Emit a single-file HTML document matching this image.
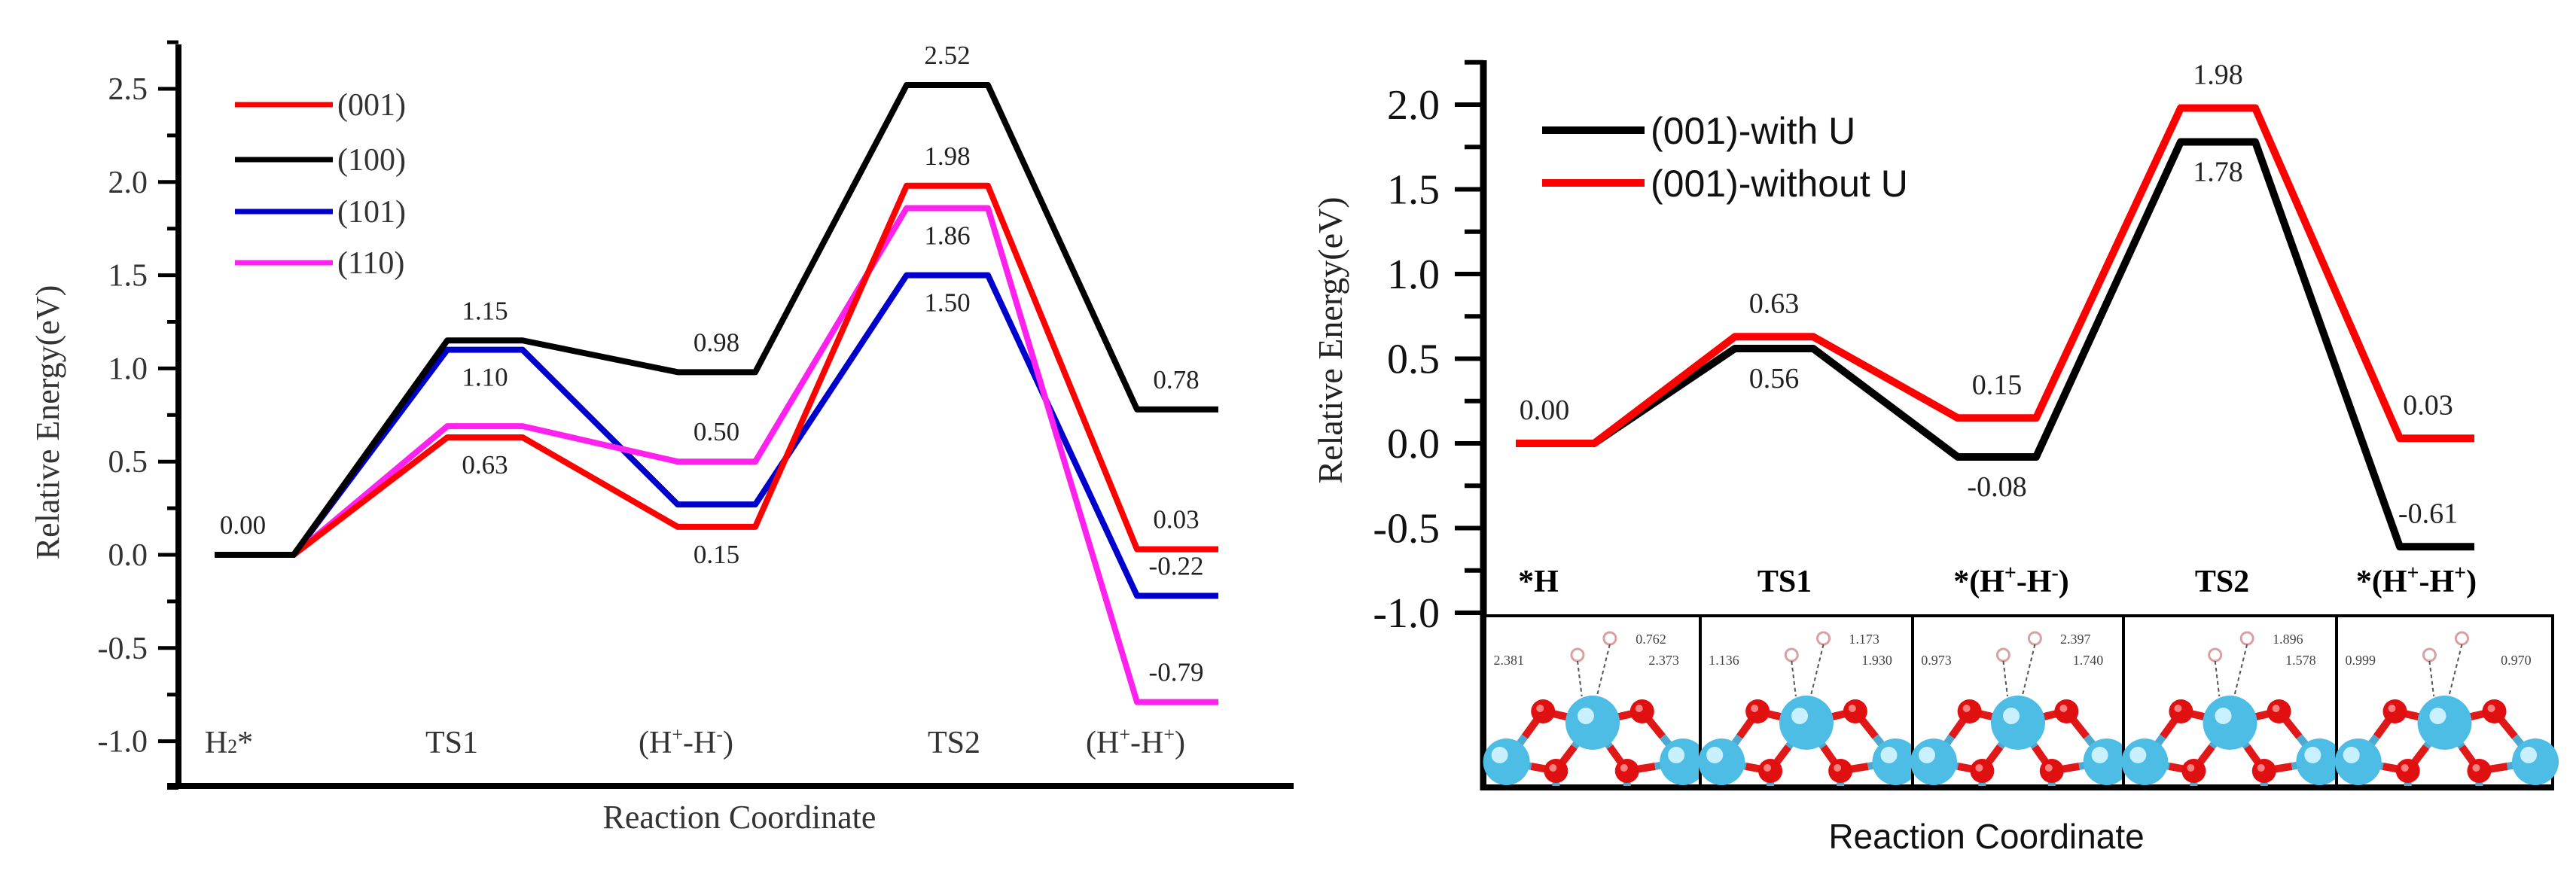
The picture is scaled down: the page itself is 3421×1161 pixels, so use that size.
<!DOCTYPE html>
<html><head><meta charset="utf-8"><style>
html,body{margin:0;padding:0;background:#fff;}
svg{display:block;}
</style></head><body>
<svg id="fig" width="3421" height="1161" viewBox="0 0 3421 1161" xmlns="http://www.w3.org/2000/svg">
<rect x="0" y="0" width="3421" height="1161" fill="#fff"/>
<g id="left"></g>
<g id="right"></g>
</svg>
<script>
// ---------- Left chart data ----------
const leftStates = ["H2*", "TS1", "(H+-H-)", "TS2", "(H+-H+)"];
const leftSeriesNames = ["(001)", "(100)", "(101)", "(110)"];
const leftColors = ["#ff0000", "#000000", "#0000cc", "#ff22ee"];
const left001 = [0.00, 0.63, 0.15, 1.98, 0.03];
const left100 = [0.00, 1.15, 0.98, 2.52, 0.78];
const left101 = [0.00, 1.10, 0.27, 1.50, -0.22];
const left110 = [0.00, 0.69, 0.50, 1.86, -0.79];
const leftTicks = [2.5, 2.0, 1.5, 1.0, 0.5, 0.0, -0.5, -1.0];
const leftTickLabels = ["2.5", "2.0", "1.5", "1.0", "0.5", "0.0", "-0.5", "-1.0"];
const leftAnnot = [["0.00",0,0.00,-1],["1.15",1,1.15,-1],["1.10",1,1.10,1],["0.63",1,0.63,1],["0.98",2,0.98,-1],["0.50",2,0.50,-1],["0.15",2,0.15,1],["2.52",3,2.52,-1],["1.98",3,1.98,-1],["1.86",3,1.86,1],["1.50",3,1.50,1],["0.78",4,0.78,-1],["0.03",4,0.03,-1],["-0.22",4,-0.22,-1],["-0.79",4,-0.79,-1]];

// ---------- Right chart data ----------
const rightStates = ["*H", "TS1", "*(H+-H-)", "TS2", "*(H+-H+)"];
const rightSeriesNames = ["(001)-with U", "(001)-without U"];
const rightColors = ["#000000", "#ff0000"];
const rightWithU = [0.00, 0.56, -0.08, 1.78, -0.61];
const rightWithoutU = [0.00, 0.63, 0.15, 1.98, 0.03];
const rightTicks = [2.0, 1.5, 1.0, 0.5, 0.0, -0.5, -1.0];
const rightTickLabels = ["2.0", "1.5", "1.0", "0.5", "0.0", "-0.5", "-1.0"];
const rightAnnot = [["0.00",0,0.00,-1],["0.63",1,0.63,-1],["0.56",1,0.56,1],["0.15",2,0.15,-1],["-0.08",2,-0.08,1],["1.98",3,1.98,-1],["1.78",3,1.78,1],["0.03",4,0.03,-1],["-0.61",4,-0.61,-1]];

const NS = "http://www.w3.org/2000/svg";
function mk(parent, tag, attrs, text){
  const e = document.createElementNS(NS, tag);
  for (const k in attrs) e.setAttribute(k, attrs[k]);
  if (text !== undefined) e.textContent = text;
  parent.appendChild(e); return e;
}

// ===== LEFT =====
(function(){
  const g = document.getElementById('left');
  const y0 = 737, perUnit = 247.6;
  const yL = v => y0 - perUnit * v;
  const levelX = [[285,390],[594,694],[900,1003],[1204,1312],[1510,1618]];
  const serif = '"Liberation Serif", serif';
  let ax = mk(g,'line',{x1:237,y1:59,x2:237,y2:1048,stroke:'#000','stroke-width':8});
   
  ax = mk(g,'line',{x1:222,y1:1044,x2:1718,y2:1044,stroke:'#000','stroke-width':8});
   
  for (let v=-1.25; v<=2.76; v+=0.25){
    const major = Math.abs(v*2-Math.round(v*2))<1e-6;
    const t = mk(g,'line',{x1: major?210:222, y1:yL(v), x2:237, y2:yL(v), stroke:'#000','stroke-width':5});
     
  }
  leftTicks.forEach((v,i)=>{
    const t = mk(g,'text',{x:196,y:yL(v)+14,'text-anchor':'end','font-family':serif,'font-size':42,fill:'#333'}, leftTickLabels[i]);
     
  });
  const yt = mk(g,'text',{x:0,y:0,transform:'translate(78,561) rotate(-90)','text-anchor':'middle','font-family':serif,'font-size':44,fill:'#333'},'Relative Energy(eV)');
   
  const xt = mk(g,'text',{x:982,y:1100,'text-anchor':'middle','font-family':serif,'font-size':44,fill:'#333'},'Reaction Coordinate');
   
  const catX = [304,600,911,1267,1508];
  leftStates.forEach((s,i)=>{
    const t = mk(g,'text',{x:catX[i],y:1000,'text-anchor':'middle','font-family':serif,'font-size':42,fill:'#333'});
     
    if (s==='H2*'){ t.innerHTML='H<tspan font-size="26">2</tspan>*'; }
    else if (s.indexOf('H+')>=0){
      const last = s.endsWith('H-)')?'-':'+';
      t.innerHTML='(H<tspan dy="-16" font-size="26">+</tspan><tspan dy="16">-H</tspan><tspan dy="-16" font-size="26">'+last+'</tspan><tspan dy="16">)</tspan>';
    } else t.textContent = s;
  });
  const series = [left001, left100, left101, left110];
  const order = [2,3,0,1];
  order.forEach(si=>{
    const vals = series[si];
    const pts = [];
    vals.forEach((v,i)=>{ pts.push(levelX[i][0]+','+yL(v)); pts.push(levelX[i][1]+','+yL(v)); });
    const p = mk(g,'polyline',{points:pts.join(' '),fill:'none',stroke:leftColors[si],'stroke-width':8,'stroke-linejoin':'round'});
    
    
  });
  leftAnnot.forEach(a=>{
    const cx = (levelX[a[1]][0]+levelX[a[1]][1])/2 + (a[1]===4? -2: (a[1]===0?-15:0));
    const y = a[3]<0 ? yL(a[2])-28 : yL(a[2])+48;
    const t = mk(g,'text',{x:cx,y:y,'text-anchor':'middle','font-family':serif,'font-size':35,fill:'#222'},a[0]);
     
  });
  const legY = [139,212,281,349];
  leftSeriesNames.forEach((n,i)=>{
    const l = mk(g,'line',{x1:312,y1:legY[i],x2:442,y2:legY[i],stroke:leftColors[i],'stroke-width':7});
     
    const t = mk(g,'text',{x:448,y:legY[i]+14,'font-family':serif,'font-size':42,fill:'#333'},n);
     
  });
})();

// ===== RIGHT =====
(function(){
  const g = document.getElementById('right');
  const y0 = 589, perUnit = 225;
  const yR = v => y0 - perUnit * v;
  const levelX = [[2013,2117],[2304,2408],[2600,2704],[2896,2995],[3187,3286]];
  const serif = '"Liberation Serif", serif';
  const sans = '"Liberation Sans", sans-serif';
  let ax = mk(g,'line',{x1:1970,y1:80,x2:1970,y2:1050,stroke:'#000','stroke-width':9});
   
  ax = mk(g,'line',{x1:1966,y1:1046,x2:3392,y2:1046,stroke:'#000','stroke-width':8});
   
  for (let v=-1.0; v<=2.26; v+=0.25){
    const major = Math.abs(v*2-Math.round(v*2))<1e-6;
    const t = mk(g,'line',{x1: major?1932:1945, y1:yR(v), x2:1970, y2:yR(v), stroke:'#000','stroke-width':6});
     
  }
  rightTicks.forEach((v,i)=>{
    const t = mk(g,'text',{x:1912,y:yR(v)+19,'text-anchor':'end','font-family':serif,'font-size':56,fill:'#111'}, rightTickLabels[i]);
     
  });
  const yt = mk(g,'text',{x:0,y:0,transform:'translate(1782,452) rotate(-90)','text-anchor':'middle','font-family':serif,'font-size':46,fill:'#222'},'Relative Energy(eV)');
   
  const xt = mk(g,'text',{x:2638,y:1127,'text-anchor':'middle','font-family':sans,'font-size':46,fill:'#111'},'Reaction Coordinate');
   
  const catX = [2043,2370,2671,2951,3209];
  rightStates.forEach((s,i)=>{
    const t = mk(g,'text',{x:catX[i],y:786,'text-anchor':'middle','font-family':serif,'font-size':42,'font-weight':'bold',fill:'#000'});
     
    if (s.indexOf('H+')>=0){
      const last = s.endsWith('H-)')?'-':'+';
      t.innerHTML='*(H<tspan dy="-16" font-size="28">+</tspan><tspan dy="16">-H</tspan><tspan dy="-16" font-size="28">'+last+'</tspan><tspan dy="16">)</tspan>';
    } else t.textContent = s;
  });
  const series = [rightWithU, rightWithoutU];
  series.forEach((vals,si)=>{
    const pts = [];
    vals.forEach((v,i)=>{ pts.push(levelX[i][0]+','+yR(v)); pts.push(levelX[i][1]+','+yR(v)); });
    const p = mk(g,'polyline',{points:pts.join(' '),fill:'none',stroke:rightColors[si],'stroke-width':10,'stroke-linejoin':'round'});
    
    
  });
  rightAnnot.forEach(a=>{
    const cx = (levelX[a[1]][0]+levelX[a[1]][1])/2 + (a[1]===0?-14:(a[1]===4?-12:0));
    const y = a[3]<0 ? yR(a[2])-32 : yR(a[2])+52;
    const t = mk(g,'text',{x:cx,y:y,'text-anchor':'middle','font-family':serif,'font-size':38,fill:'#222'},a[0]);
     
  });
  const legY = [173,243];
  rightSeriesNames.forEach((n,i)=>{
    const l = mk(g,'line',{x1:2048,y1:legY[i],x2:2184,y2:legY[i],stroke:rightColors[i],'stroke-width':10});
     
    const t = mk(g,'text',{x:2192,y:legY[i]+18,'font-family':sans,'font-size':50,fill:'#111'},n);
     
  });
  // structure image panels
  const boxX = [1972,2258,2540,2820,3103,3390];
  const top = 818, bot = 1044;
  const panelLabels = [["0.762","2.381","2.373"],["1.173","1.136","1.930"],["2.397","0.973","1.740"],["1.896","","1.578"],["","0.999","0.970"]];
  for (let b=0;b<5;b++){
    const x0 = boxX[b], w = boxX[b+1]-boxX[b];
    const pg = mk(g,'g',{});
     
    mk(pg,'rect',{x:x0,y:top,width:w,height:bot-top,fill:'#fff',stroke:'#000','stroke-width':4});
    const C = [x0+0.5*w, 960], BL=[x0+0.1*w,1012], BR=[x0+0.92*w,1012];
    const R = [[x0+0.27*w,945],[x0+0.73*w,945],[x0+0.33*w,1024],[x0+0.66*w,1024]];
    const bonds = [[R[0],C],[R[1],C],[R[2],C],[R[3],C],[R[0],BL],[R[2],BL],[R[1],BR],[R[3],BR],[R[2],[R[2][0],1044]],[R[3],[R[3][0],1044]]];
    bonds.forEach(bd=>{
      const mx=(bd[0][0]+bd[1][0])/2,my=(bd[0][1]+bd[1][1])/2;
      mk(pg,'line',{x1:bd[0][0],y1:bd[0][1],x2:mx,y2:my,stroke:'#e01818','stroke-width':10});
      mk(pg,'line',{x1:mx,y1:my,x2:bd[1][0],y2:bd[1][1],stroke:'#4fa8d0','stroke-width':10});
    });
    [BL,BR,C].forEach((p,k)=>{ mk(pg,'circle',{cx:p[0],cy:p[1],r:k===2?36:31,fill:'#4dbde6'}); mk(pg,'circle',{cx:p[0]-9,cy:p[1]-9,r:11,fill:'#c8f0ff'}); });
    R.forEach(p=>{ mk(pg,'circle',{cx:p[0],cy:p[1],r:16,fill:'#e01010'}); mk(pg,'circle',{cx:p[0]-4,cy:p[1]-4,r:5,fill:'#ff8080'}); });
    mk(pg,'circle',{cx:x0+0.43*w,cy:870,r:8,fill:'#fff',stroke:'#d9a0a0','stroke-width':3});
    mk(pg,'circle',{cx:x0+0.58*w,cy:848,r:8,fill:'#fff',stroke:'#d9a0a0','stroke-width':3});
    mk(pg,'line',{x1:x0+0.43*w,y1:878,x2:x0+0.45*w,y2:925,stroke:'#555','stroke-width':2,'stroke-dasharray':'5,4'});
    mk(pg,'line',{x1:x0+0.58*w,y1:856,x2:x0+0.52*w,y2:925,stroke:'#555','stroke-width':2,'stroke-dasharray':'5,4'});
    const lab = panelLabels[b];
    lab.forEach((s,k)=>{ if(!s) return;
      const pos = [[x0+0.70*w,855],[x0+0.04*w,883],[x0+0.76*w,883]][k];
      const t = mk(pg,'text',{x:pos[0],y:pos[1],'font-family':serif,'font-size':18,fill:'#444'},s);
       
    });
  }
})();
</script>
</body></html>
